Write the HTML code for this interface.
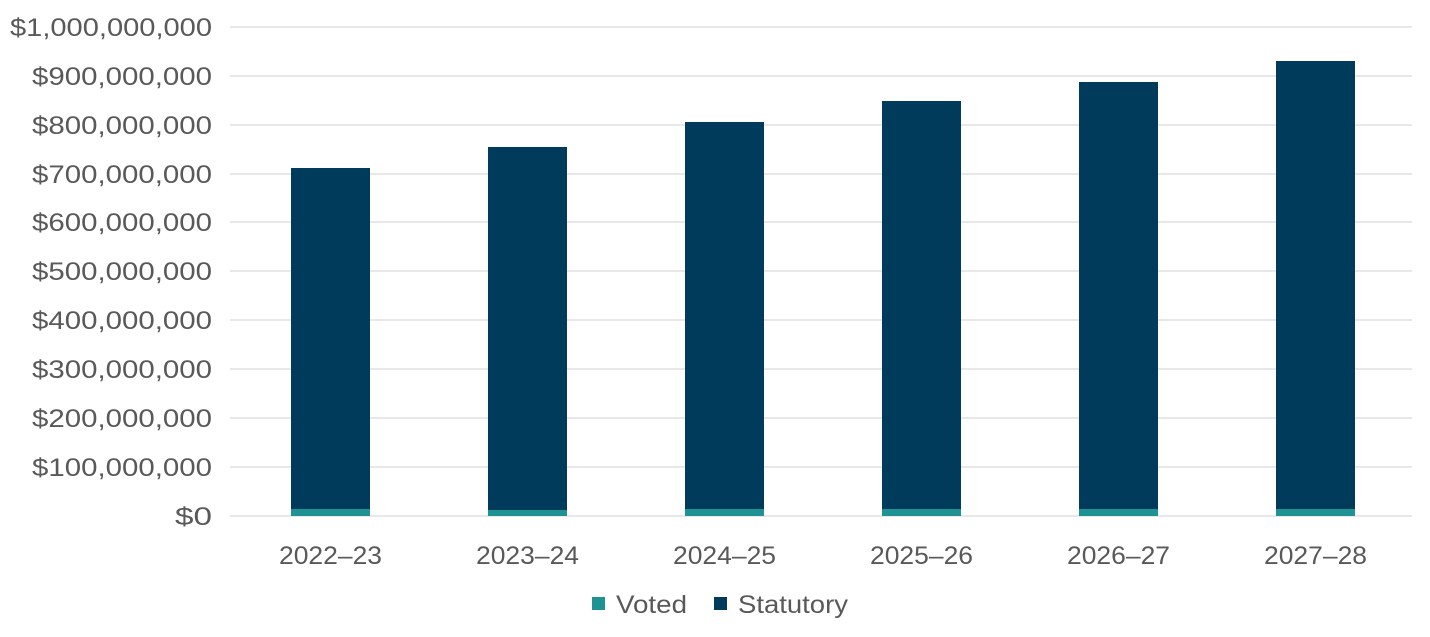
<!DOCTYPE html>
<html><head><style>
body{margin:0;background:#fff;}
svg{display:block;font-family:"Liberation Sans",Calibri,sans-serif;}
</style></head><body>
<svg width="1430" height="637" viewBox="0 0 1430 637">
<g stroke="#d9d9d9" stroke-width="1.3">
<line x1="230" x2="1412" y1="27" y2="27"/><line x1="230" x2="1412" y1="76" y2="76"/>
<line x1="230" x2="1412" y1="125" y2="125"/><line x1="230" x2="1412" y1="174" y2="174"/>
<line x1="230" x2="1412" y1="222" y2="222"/><line x1="230" x2="1412" y1="271" y2="271"/>
<line x1="230" x2="1412" y1="320" y2="320"/><line x1="230" x2="1412" y1="369" y2="369"/>
<line x1="230" x2="1412" y1="418" y2="418"/><line x1="230" x2="1412" y1="467" y2="467"/>
<line x1="230" x2="1412" y1="516" y2="516"/>
</g>
<g fill="#595959" font-size="25" text-anchor="end" lengthAdjust="spacingAndGlyphs">
<text x="212" y="36" textLength="202" lengthAdjust="spacingAndGlyphs">$1,000,000,000</text>
<text x="212" y="85" textLength="180" lengthAdjust="spacingAndGlyphs">$900,000,000</text>
<text x="212" y="134" textLength="180" lengthAdjust="spacingAndGlyphs">$800,000,000</text>
<text x="212" y="183" textLength="180" lengthAdjust="spacingAndGlyphs">$700,000,000</text>
<text x="212" y="231" textLength="180" lengthAdjust="spacingAndGlyphs">$600,000,000</text>
<text x="212" y="280" textLength="180" lengthAdjust="spacingAndGlyphs">$500,000,000</text>
<text x="212" y="329" textLength="180" lengthAdjust="spacingAndGlyphs">$400,000,000</text>
<text x="212" y="378" textLength="180" lengthAdjust="spacingAndGlyphs">$300,000,000</text>
<text x="212" y="427" textLength="180" lengthAdjust="spacingAndGlyphs">$200,000,000</text>
<text x="212" y="476" textLength="180" lengthAdjust="spacingAndGlyphs">$100,000,000</text>
<text x="212" y="525" textLength="37" lengthAdjust="spacingAndGlyphs">$0</text>
</g>
<g fill="#003b5c">
<rect x="291" y="168" width="79" height="348"/>
<rect x="488" y="147" width="79" height="369"/>
<rect x="685" y="122" width="79" height="394"/>
<rect x="882" y="101" width="79" height="415"/>
<rect x="1079" y="82" width="79" height="434"/>
<rect x="1276" y="61" width="79" height="455"/>
</g>
<g fill="#1f9393">
<rect x="291" y="509" width="79" height="7"/>
<rect x="488" y="510" width="79" height="6"/>
<rect x="685" y="509" width="79" height="7"/>
<rect x="882" y="509" width="79" height="7"/>
<rect x="1079" y="509" width="79" height="7"/>
<rect x="1276" y="509" width="79" height="7"/>
</g>
<g fill="#595959" font-size="25" text-anchor="middle">
<text x="330.5" y="564" textLength="103" lengthAdjust="spacingAndGlyphs">2022–23</text>
<text x="527.5" y="564" textLength="103" lengthAdjust="spacingAndGlyphs">2023–24</text>
<text x="724.5" y="564" textLength="103" lengthAdjust="spacingAndGlyphs">2024–25</text>
<text x="921.5" y="564" textLength="103" lengthAdjust="spacingAndGlyphs">2025–26</text>
<text x="1118.5" y="564" textLength="103" lengthAdjust="spacingAndGlyphs">2026–27</text>
<text x="1315.5" y="564" textLength="103" lengthAdjust="spacingAndGlyphs">2027–28</text>
</g>
<rect x="592" y="597" width="13" height="13" fill="#1f9393"/>
<text x="616" y="613" fill="#595959" font-size="25" textLength="71" lengthAdjust="spacingAndGlyphs">Voted</text>
<rect x="714" y="597" width="13" height="13" fill="#003b5c"/>
<text x="738" y="613" fill="#595959" font-size="25" textLength="110" lengthAdjust="spacingAndGlyphs">Statutory</text>
</svg>
</body></html>
